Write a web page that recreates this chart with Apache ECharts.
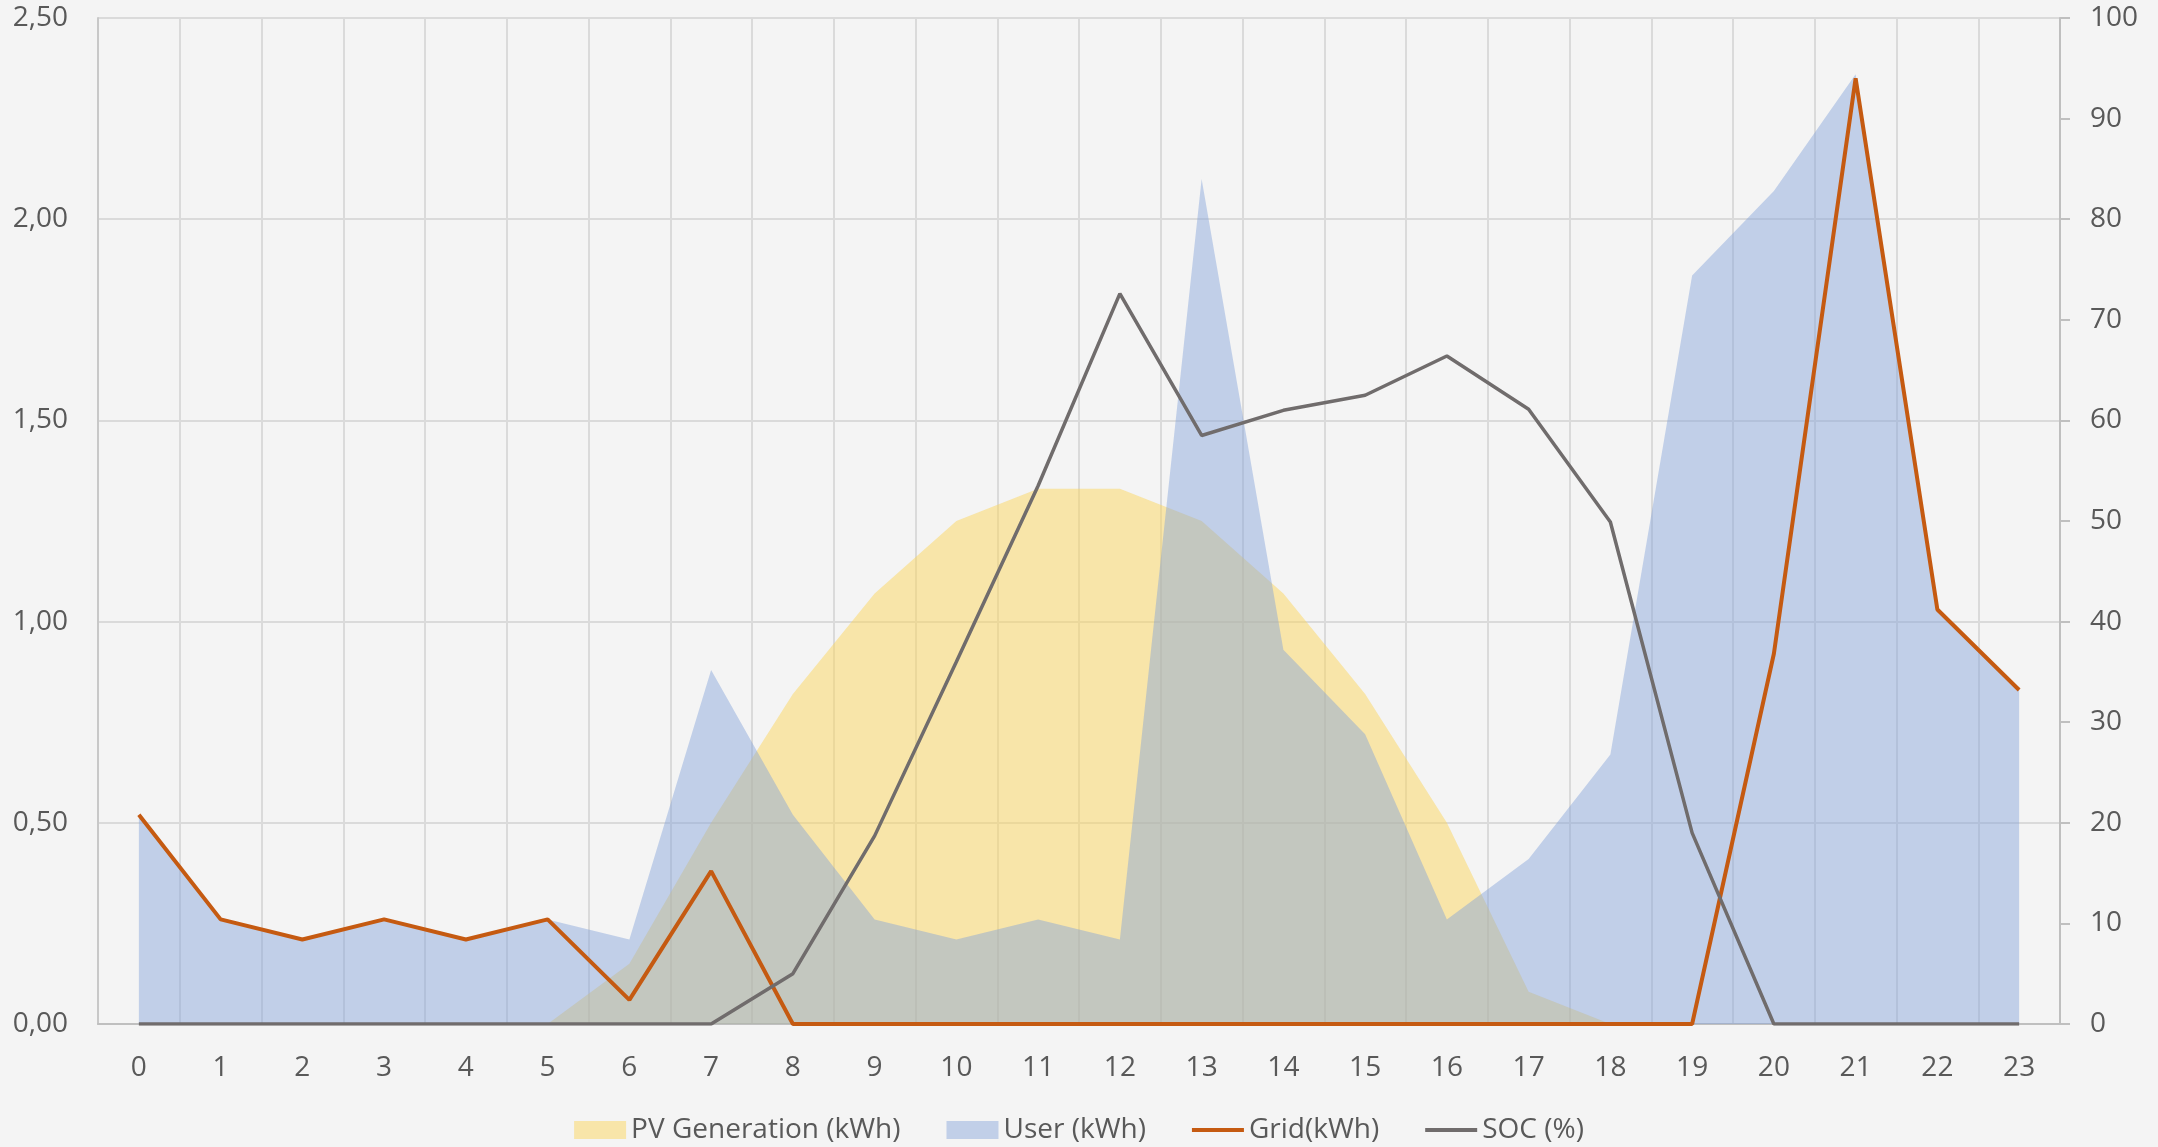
<!DOCTYPE html>
<html>
<head>
<meta charset="utf-8">
<script src="https://cdn.jsdelivr.net/npm/echarts@6/dist/echarts.min.js"></script>
<style>
html,body{margin:0;padding:0;background:#F4F4F4;}
#chart{width:2158px;height:1147px;}
</style>
</head>
<body>
<div id="chart"></div>
<script>
const hours = ['0','1','2','3','4','5','6','7','8','9','10','11','12','13','14','15','16','17','18','19','20','21','22','23'];
const pvGeneration = [0,0,0,0,0,0,0.15,0.50,0.82,1.07,1.25,1.33,1.33,1.25,1.07,0.82,0.50,0.08,0,0,0,0,0,0];
const userLoad = [0.52,0.26,0.21,0.26,0.21,0.26,0.21,0.88,0.52,0.26,0.21,0.26,0.21,2.10,0.93,0.72,0.26,0.41,0.67,1.86,2.07,2.36,1.03,0.83];
const gridEnergy = [0.52,0.26,0.21,0.26,0.21,0.26,0.06,0.38,0,0,0,0,0,0,0,0,0,0,0,0,0.92,2.35,1.03,0.83];
const soc = [0,0,0,0,0,0,0,0,5,18.7,36,53.5,72.6,58.5,61,62.5,66.4,61.1,49.9,19,0,0,0,0];
const leftTicks = {min:0, max:2.5, interval:0.5};
const rightTicks = {min:0, max:100, interval:10};
const seriesNames = ['PV Generation (kWh)','User (kWh)','Grid(kWh)','SOC (%)'];

const FONT = '"Open Sans", "Noto Sans", sans-serif';
const TXT = '#595959';
const LINE_ICON = 'path://M0,0L52,0L52,4L0,4Z';
const chart = echarts.init(document.getElementById('chart'), null, {renderer:'canvas'});
chart.setOption({
  backgroundColor:'#F4F4F4',
  animation:false,
  textStyle:{fontFamily:FONT},
  grid:{left:98, right:98, top:18, bottom:123, containLabel:false},
  legend:{
    top:1116, left:'center', padding:0,
    itemWidth:52, itemHeight:18, itemGap:46,
    textStyle:{fontFamily:FONT, fontSize:28, color:TXT},
    data:[
      {name:seriesNames[0], icon:'rect', itemStyle:{color:'#F8E5A9'}},
      {name:seriesNames[1], icon:'rect', itemStyle:{color:'#C1CFE8'}},
      {name:seriesNames[2], icon:LINE_ICON, itemStyle:{color:'#C55A11'}},
      {name:seriesNames[3], icon:LINE_ICON, itemStyle:{color:'#706C6C'}}
    ]
  },
  xAxis:{
    type:'category', data:hours, boundaryGap:true,
    axisLine:{show:true, lineStyle:{color:'#BFBFBF', width:2}},
    axisTick:{show:false},
    axisLabel:{fontFamily:FONT, fontSize:28, color:TXT, margin:30},
    splitLine:{show:true, lineStyle:{color:'#DADADA', width:2}}
  },
  yAxis:[
    {
      type:'value', min:leftTicks.min, max:leftTicks.max, interval:leftTicks.interval,
      axisLine:{show:true, lineStyle:{color:'#C8C8C8', width:2}},
      axisTick:{show:false},
      axisLabel:{fontFamily:FONT, fontSize:28, color:TXT, margin:30,
        formatter:v=>v.toFixed(2).replace('.',',')},
      splitLine:{show:true, lineStyle:{color:'#DADADA', width:2}}
    },
    {
      type:'value', min:rightTicks.min, max:rightTicks.max, interval:rightTicks.interval,
      position:'right',
      axisLine:{show:true, lineStyle:{color:'#BFBFBF', width:2}},
      axisTick:{show:true, inside:false, length:10, lineStyle:{color:'#BFBFBF', width:2}},
      axisLabel:{fontFamily:FONT, fontSize:28, color:TXT, margin:30},
      splitLine:{show:false}
    }
  ],
  series:[
    {
      name:seriesNames[0], type:'line', data:pvGeneration, yAxisIndex:0,
      symbol:'none', itemStyle:{color:'#F8E5A9'},
      lineStyle:{width:0, opacity:0},
      areaStyle:{color:'rgba(252,214,94,0.5)', opacity:1},
      z:1
    },
    {
      name:seriesNames[1], type:'line', data:userLoad, yAxisIndex:0,
      symbol:'none', itemStyle:{color:'#C1CFE8'},
      lineStyle:{width:0, opacity:0},
      areaStyle:{color:'rgba(131,162,217,0.45)', opacity:1},
      z:2
    },
    {
      name:seriesNames[2], type:'line', data:gridEnergy, yAxisIndex:0,
      symbol:'none', itemStyle:{color:'#C55A11'},
      lineStyle:{color:'#C55A11', width:4},
      z:3
    },
    {
      name:seriesNames[3], type:'line', data:soc, yAxisIndex:1,
      symbol:'none', itemStyle:{color:'#706C6C'},
      lineStyle:{color:'#706C6C', width:3.5},
      z:4
    }
  ]
});
</script>
</body>
</html>
